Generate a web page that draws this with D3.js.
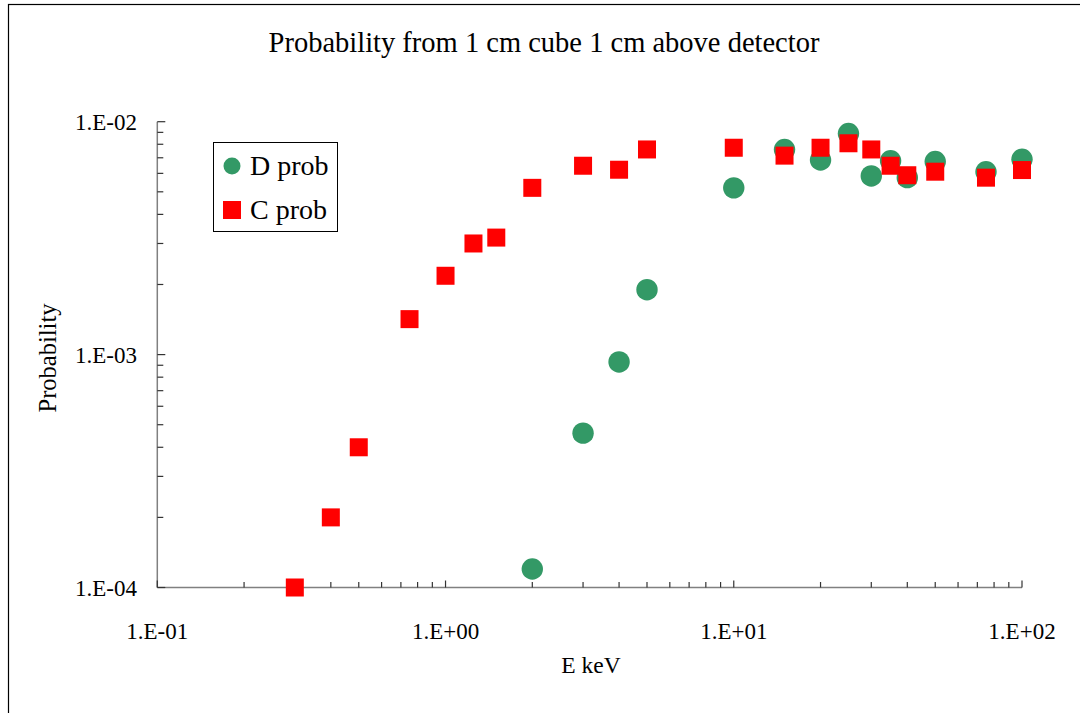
<!DOCTYPE html>
<html>
<head>
<meta charset="utf-8">
<script src="https://cdn.jsdelivr.net/npm/d3@7"></script>
<style>
  body { margin: 0; background: #fff; }
  text { font-family: "Liberation Serif", "Times New Roman", serif; fill: #000; }
</style>
</head>
<body>
<script>
// energies (keV) and probabilities
const energyD = [2, 3, 4, 5, 10, 15, 20, 25, 30, 35, 40, 50, 75, 100];
const probD = [1.2e-4, 4.6e-4, 9.3e-4, 1.9e-3, 5.2e-3, 7.6e-3, 6.85e-3, 8.9e-3, 5.85e-3, 6.8e-3, 5.75e-3, 6.75e-3, 6.1e-3, 6.9e-3];
const energyC = [0.3, 0.4, 0.5, 0.75, 1, 1.25, 1.5, 2, 3, 4, 5, 10, 15, 20, 25, 30, 35, 40, 50, 75, 100];
const probC = [1.0e-4, 2.0e-4, 4.0e-4, 1.42e-3, 2.18e-3, 3.0e-3, 3.18e-3, 5.2e-3, 6.47e-3, 6.22e-3, 7.6e-3, 7.73e-3, 7.15e-3, 7.73e-3, 8.08e-3, 7.6e-3, 6.47e-3, 5.89e-3, 6.1e-3, 5.75e-3, 6.2e-3];
const xTickLabels = ["1.E-01", "1.E+00", "1.E+01", "1.E+02"];
const yTickLabels = ["1.E-04", "1.E-03", "1.E-02"];
const seriesNames = ["D prob", "C prob"];

const width = 1080, height = 713;
const svg = d3.select("body").append("svg")
    .attr("width", width).attr("height", height);

// chart border (runs off the right and bottom edge like the original)
svg.append("rect")
    .attr("x", 8.5).attr("y", 4.5)
    .attr("width", 1100).attr("height", 760)
    .attr("fill", "none").attr("stroke", "#000").attr("stroke-width", 1.2);

const x = d3.scaleLog().domain([0.1, 100]).range([157.3, 1022]);
const y = d3.scaleLog().domain([1e-4, 1e-2]).range([587.5, 121.7]);

// title
svg.append("text")
    .attr("x", 544).attr("y", 52)
    .attr("text-anchor", "middle")
    .style("font-size", "28.5px")
    .text("Probability from 1 cm cube 1 cm above detector");

// axes
const axes = svg.append("g");
axes.append("line")
    .attr("x1", x.range()[0]).attr("x2", x.range()[1])
    .attr("y1", y.range()[0]).attr("y2", y.range()[0])
    .attr("stroke", "#808080").attr("stroke-width", 1.5);
axes.append("line")
    .attr("x1", x.range()[0]).attr("x2", x.range()[0])
    .attr("y1", y.range()[0]).attr("y2", y.range()[1])
    .attr("stroke", "#808080").attr("stroke-width", 1.5);

const isDecade = v => Math.abs(Math.log10(v) - Math.round(Math.log10(v))) < 1e-9;

// x ticks, pointing up into the plot
axes.selectAll(".xtick").data(x.ticks()).join("line")
    .attr("class", "xtick")
    .attr("x1", d => x(d)).attr("x2", d => x(d))
    .attr("y1", y.range()[0]).attr("y2", d => y.range()[0] - (isDecade(d) ? 7 : 5.5))
    .attr("stroke", "#333").attr("stroke-width", 1.2);

// y ticks, pointing right
axes.selectAll(".ytick").data(y.ticks()).join("line")
    .attr("class", "ytick")
    .attr("y1", d => y(d)).attr("y2", d => y(d))
    .attr("x1", x.range()[0]).attr("x2", d => x.range()[0] + (isDecade(d) ? 8 : 6))
    .attr("stroke", "#333").attr("stroke-width", 1.2);

const xDecades = x.ticks().filter(isDecade);
axes.selectAll(".xlab").data(xDecades).join("text")
    .attr("class", "xlab")
    .attr("x", d => x(d)).attr("y", y.range()[0] + 51)
    .attr("text-anchor", "middle")
    .style("font-size", "23px")
    .text((d, i) => xTickLabels[i]);

const yDecades = y.ticks().filter(isDecade);
axes.selectAll(".ylab").data(yDecades).join("text")
    .attr("class", "ylab")
    .attr("x", 137).attr("y", d => y(d) + 8)
    .attr("text-anchor", "end")
    .style("font-size", "23px")
    .text((d, i) => yTickLabels[i]);

// axis titles
svg.append("text")
    .attr("x", 591).attr("y", 673)
    .attr("text-anchor", "middle")
    .style("font-size", "23.5px")
    .text("E keV");
svg.append("text")
    .attr("transform", "translate(56,358) rotate(-90)")
    .attr("text-anchor", "middle")
    .style("font-size", "24.5px")
    .text("Probability");

// data
const green = "#339966", red = "#ff0000";
svg.append("g").selectAll("circle").data(energyD).join("circle")
    .attr("cx", d => x(d))
    .attr("cy", (d, i) => y(probD[i]))
    .attr("r", 10.7)
    .attr("fill", green);

const sq = 18;
svg.append("g").selectAll("rect").data(energyC).join("rect")
    .attr("x", d => x(d) - sq / 2)
    .attr("y", (d, i) => y(probC[i]) - sq / 2)
    .attr("width", sq).attr("height", sq)
    .attr("fill", red);

// legend
const legend = svg.append("g");
legend.append("rect")
    .attr("x", 213.5).attr("y", 142.5)
    .attr("width", 124).attr("height", 89)
    .attr("fill", "#fff").attr("stroke", "#000").attr("stroke-width", 1);
legend.append("circle")
    .attr("cx", 232).attr("cy", 166).attr("r", 8.5).attr("fill", green);
legend.append("rect")
    .attr("x", 223).attr("y", 201).attr("width", 18).attr("height", 18).attr("fill", red);
legend.selectAll(".ltxt").data(seriesNames).join("text")
    .attr("class", "ltxt")
    .attr("x", 250).attr("y", (d, i) => 175 + i * 44)
    .style("font-size", "28px")
    .text(d => d);
</script>
</body>
</html>
